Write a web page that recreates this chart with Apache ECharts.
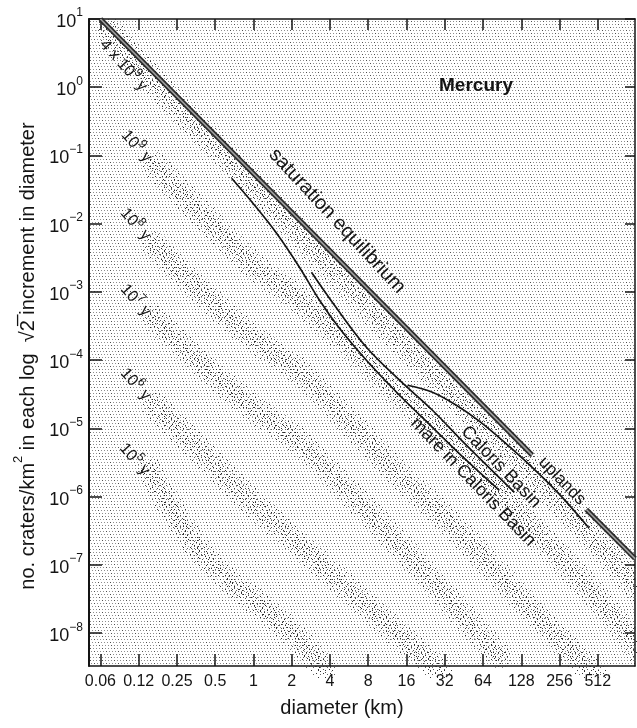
<!DOCTYPE html>
<html>
<head>
<meta charset="utf-8">
<script src="https://cdn.jsdelivr.net/npm/echarts@6/dist/echarts.min.js"></script>
<style>
  html, body { margin: 0; padding: 0; background: #fff; }
  #chart { width: 637px; height: 728px; }
</style>
</head>
<body>
<div id="chart"></div>
<script>
// ticks
var xTicks = [0.0625, 0.125, 0.25, 0.5, 1, 2, 4, 8, 16, 32, 64, 128, 256, 512];
var xTickLabels = ['0.06', '0.12', '0.25', '0.5', '1', '2', '4', '8', '16', '32', '64', '128', '256', '512'];
var yTicks = [10, 1, 1e-1, 1e-2, 1e-3, 1e-4, 1e-5, 1e-6, 1e-7, 1e-8];

// saturation equilibrium (broken where the "uplands" label sits)
var satDiam = [0.0625, 156];
var satDens = [10, 4.07e-6];
var satDiam2 = [416, 1005];
var satDens2 = [6.5e-7, 1.24e-7];

// measured curves
var mareDiam = [0.673, 1.02, 1.52, 2.30, 3.31, 4.75, 7.74, 14.1, 25.6, 47.3, 86];
var mareDens = [0.0464, 0.0187, 7.26e-3, 2.31e-3, 7.57e-4, 2.94e-4, 1.0e-4, 3.07e-5, 1.04e-5, 3.43e-6, 1.24e-6];
var calorisDiam = [2.86, 4.34, 7.74, 14.1, 25.6, 47.3, 113];
var calorisDens = [1.95e-3, 6.4e-4, 1.55e-4, 5.1e-5, 1.85e-5, 5.7e-6, 1.16e-6];
var uplandsDiam = [16.3, 25.6, 39.5, 59.8, 90.8, 156, 255, 438];
var uplandsDens = [4.3e-5, 3.4e-5, 2.19e-5, 1.28e-5, 6.7e-6, 2.7e-6, 1.09e-6, 3.45e-7];

// isochron bands (ages)
var band4e9Diam = [0.0739, 0.183, 0.452, 1.117, 3.31, 11.74, 41.7, 148, 525, 1083];
var band4e9Dens = [6.84, 0.967, 0.167, 0.031, 3.45e-3, 2.75e-4, 2.59e-5, 2.44e-6, 1.95e-7, 4.27e-8];
var band1e9Diam = [0.167, 0.377, 0.932, 2.30, 5.69, 14.1, 34.8, 86.0, 212, 525, 1083];
var band1e9Dens = [0.0720, 0.01473, 2.73e-3, 7.57e-4, 1.66e-4, 3.07e-5, 6.73e-6, 1.24e-6, 1.95e-7, 3.05e-8, 5.64e-9];
var band1e8Diam = [0.167, 0.377, 0.932, 2.30, 5.69, 14.1, 34.8, 86.0, 212, 525];
var band1e8Dens = [4.84e-3, 1.06e-3, 2.32e-4, 6.67e-5, 1.23e-5, 2.06e-6, 4.23e-7, 7.08e-8, 1.18e-8, 2.05e-9];
var band1e7Diam = [0.167, 0.377, 0.932, 2.30, 5.69, 14.1, 34.8, 86.0];
var band1e7Dens = [4.12e-4, 9.35e-5, 2.19e-5, 6.30e-6, 1.16e-6, 1.95e-7, 3.05e-8, 4.76e-9];
var band1e6Diam = [0.167, 0.377, 0.932, 2.30, 5.69, 14.1, 29.0];
var band1e6Dens = [2.19e-5, 4.80e-6, 8.89e-7, 1.95e-7, 4.27e-8, 9.35e-9, 2.87e-9];
var band1e5Diam = [0.153, 0.207, 0.377, 0.685, 1.268, 2.30, 3.62];
var band1e5Dens = [2.44e-6, 8.89e-7, 1.64e-7, 5.41e-8, 2.17e-8, 7.89e-9, 2.87e-9];

var FONT = '"Liberation Sans", Arial, Helvetica, sans-serif';
var INK = '#141414';

function pairs(xs, ys) {
  return xs.map(function (x, i) { return [x, ys[i]]; });
}

// stipple textures
function dots(size, pts, bg) {
  var c = document.createElement('canvas');
  c.width = size; c.height = size;
  var ctx = c.getContext('2d');
  if (bg) { ctx.fillStyle = bg; ctx.fillRect(0, 0, size, size); }
  pts.forEach(function (p) { ctx.fillStyle = p[2]; ctx.fillRect(p[0], p[1], 1, 1); });
  return c;
}
var G = '#8e8e8e', D = '#505050';
var paper = dots(12, [
  [0, 0, G], [3, 0, G], [6, 0, D], [9, 0, G],
  [1, 3, G], [4, 3, G], [7, 3, G], [10, 3, D],
  [2, 6, D], [5, 6, G], [8, 6, G], [11, 6, G],
  [0, 9, G], [3, 9, D], [6, 9, G], [9, 9, G]
], '#ffffff');
var grit = dots(11, [
  [1, 0, '#2a2a2a'], [6, 1, '#555'], [9, 3, '#2a2a2a'], [3, 4, '#555'],
  [0, 7, '#2a2a2a'], [7, 6, '#2a2a2a'], [4, 9, '#555'], [10, 9, '#2a2a2a']
], null);
var grit2 = dots(7, [[1, 1, '#333'], [5, 2, '#666'], [3, 5, '#333']], null);

function bandSeries(xs, ys) {
  return [{
    type: 'line', data: pairs(xs, ys), smooth: 0.3, showSymbol: false, silent: true, z: 1,
    lineStyle: { width: 26, color: { image: grit2, repeat: 'repeat' }, cap: 'round' }
  }, {
    type: 'line', data: pairs(xs, ys), smooth: 0.3, showSymbol: false, silent: true, z: 1,
    lineStyle: { width: 14, color: { image: grit, repeat: 'repeat' }, cap: 'round' }
  }];
}
function curveSeries(xs, ys) {
  return {
    type: 'line', data: pairs(xs, ys), smooth: 0.35, showSymbol: false, silent: true, z: 4,
    lineStyle: { width: 1.7, color: INK }
  };
}
function satSeries(xs, ys, w, col, z) {
  return {
    type: 'line', data: pairs(xs, ys), showSymbol: false, silent: true, z: z,
    lineStyle: { width: w, color: col }
  };
}

function xLabel(v) {
  for (var i = 0; i < xTicks.length; i++) {
    if (Math.abs(Math.log2(v) - Math.log2(xTicks[i])) < 1e-6) return xTickLabels[i];
  }
  return '';
}
function yLabel(v) {
  var e = Math.round(Math.log10(v));
  return '{b|10}{s|' + (e < 0 ? '\u2212' + (-e) : e) + '}';
}

var xMin = 0.0508, xMax = 1005;
var yMin = 3.31e-9, yMax = 10;

var axisLine = { show: true, lineStyle: { color: INK, width: 1.5 } };

var chart = echarts.init(document.getElementById('chart'));
var option = {
  animation: false,
  backgroundColor: '#ffffff',
  grid: {
    left: 89, right: 2, top: 19, bottom: 62, show: true,
    backgroundColor: { image: paper, repeat: 'repeat' }, borderWidth: 0
  },
  xAxis: [{
    type: 'log', logBase: 2, min: xMin, max: xMax, position: 'bottom',
    axisLine: axisLine,
    axisTick: { inside: true, length: 12, customValues: xTicks, lineStyle: { color: INK, width: 1.5 } },
    axisLabel: { customValues: xTicks, formatter: xLabel, fontSize: 16, color: INK, fontFamily: FONT, margin: 8 },
    splitLine: { show: false },
    name: 'diameter (km)', nameLocation: 'middle', nameGap: 32,
    nameTextStyle: { fontSize: 20, color: INK, fontFamily: FONT, padding: [0, 40, 0, 0] }
  }, {
    type: 'log', logBase: 2, min: xMin, max: xMax, position: 'top',
    axisLine: axisLine,
    axisTick: { inside: true, length: 11, customValues: xTicks, lineStyle: { color: INK, width: 1.5 } },
    axisLabel: { show: false }, splitLine: { show: false }
  }],
  yAxis: [{
    type: 'log', logBase: 10, min: yMin, max: yMax, position: 'left',
    axisLine: { show: true, lineStyle: { color: INK, width: 2 } },
    axisTick: { inside: true, length: 13, customValues: yTicks, lineStyle: { color: INK, width: 1.5 } },
    axisLabel: {
      customValues: yTicks, formatter: yLabel, margin: 6, color: INK,
      rich: {
        b: { fontSize: 18, fontFamily: FONT, color: INK, lineHeight: 24, verticalAlign: 'bottom' },
        s: { fontSize: 12, fontFamily: FONT, color: INK, lineHeight: 12, verticalAlign: 'top' }
      }
    },
    splitLine: { show: false },
    name: '{t|no. craters/km}{s|2}{t| in each log  \u221A2\u0305 increment in diameter}',
    nameLocation: 'middle', nameRotate: 90, nameGap: 44,
    nameTextStyle: {
      padding: [0, 27, 0, 0],
      rich: {
        t: { fontSize: 20, fontFamily: FONT, color: INK, lineHeight: 26, verticalAlign: 'bottom' },
        s: { fontSize: 13, fontFamily: FONT, color: INK, lineHeight: 13, verticalAlign: 'top' }
      }
    }
  }, {
    type: 'log', logBase: 10, min: yMin, max: yMax, position: 'right',
    axisLine: axisLine,
    axisTick: { inside: true, length: 10, customValues: yTicks, lineStyle: { color: INK, width: 1.5 } },
    axisLabel: { show: false }, splitLine: { show: false }
  }],
  series: [].concat(
    bandSeries(band4e9Diam, band4e9Dens),
    bandSeries(band1e9Diam, band1e9Dens),
    bandSeries(band1e8Diam, band1e8Dens),
    bandSeries(band1e7Diam, band1e7Dens),
    bandSeries(band1e6Diam, band1e6Dens),
    bandSeries(band1e5Diam, band1e5Dens),
    [
      satSeries(satDiam, satDens, 5, '#2a2a2a', 5),
      satSeries(satDiam, satDens, 1.6, '#a0a0a0', 6),
      satSeries(satDiam2, satDens2, 5, '#2a2a2a', 5),
      satSeries(satDiam2, satDens2, 1.6, '#a0a0a0', 6),
      curveSeries(mareDiam, mareDens),
      curveSeries(calorisDiam, calorisDens),
      curveSeries(uplandsDiam, uplandsDens)
    ]
  ),
  graphic: (function () {
    var ageRich = {
      a: { fontSize: 16, fontFamily: FONT, fill: INK, lineHeight: 20, verticalAlign: 'bottom' },
      s: { fontSize: 12, fontFamily: FONT, fill: INK, lineHeight: 12, verticalAlign: 'top' }
    };
    function age(x, y, txt) {
      return {
        type: 'text', x: x, y: y, rotation: -48 * Math.PI / 180, z: 20,
        style: { text: txt, rich: ageRich, align: 'center', verticalAlign: 'middle', fill: INK }
      };
    }
    function tag(x, y, txt, size, deg) {
      return {
        type: 'text', x: x, y: y, rotation: -deg * Math.PI / 180, z: 20,
        style: { text: txt, font: size + 'px ' + FONT, fill: INK, align: 'center', verticalAlign: 'middle' }
      };
    }
    return [
      age(125, 64, '{a|4 x 10}{s|9}{a| y}'),
      age(138, 145, '{a|10}{s|9}{a| y}'),
      age(137, 223, '{a|10}{s|8}{a| y}'),
      age(137, 299, '{a|10}{s|7}{a| y}'),
      age(137, 383, '{a|10}{s|6}{a| y}'),
      age(136, 458, '{a|10}{s|5}{a| y}'),
      tag(337, 221, 'saturation equilibrium', 20, 47),
      tag(562, 481, 'uplands', 17, 46),
      tag(501, 467, 'Caloris Basin', 18, 46),
      tag(473, 482, 'mare in Caloris Basin', 18, 46),
      {
        type: 'text', x: 476, y: 86, z: 20,
        style: { text: 'Mercury', font: 'bold 19px ' + FONT, fill: INK, align: 'center', verticalAlign: 'middle' }
      }
    ];
  })()
};
chart.setOption(option);
</script>
</body>
</html>
